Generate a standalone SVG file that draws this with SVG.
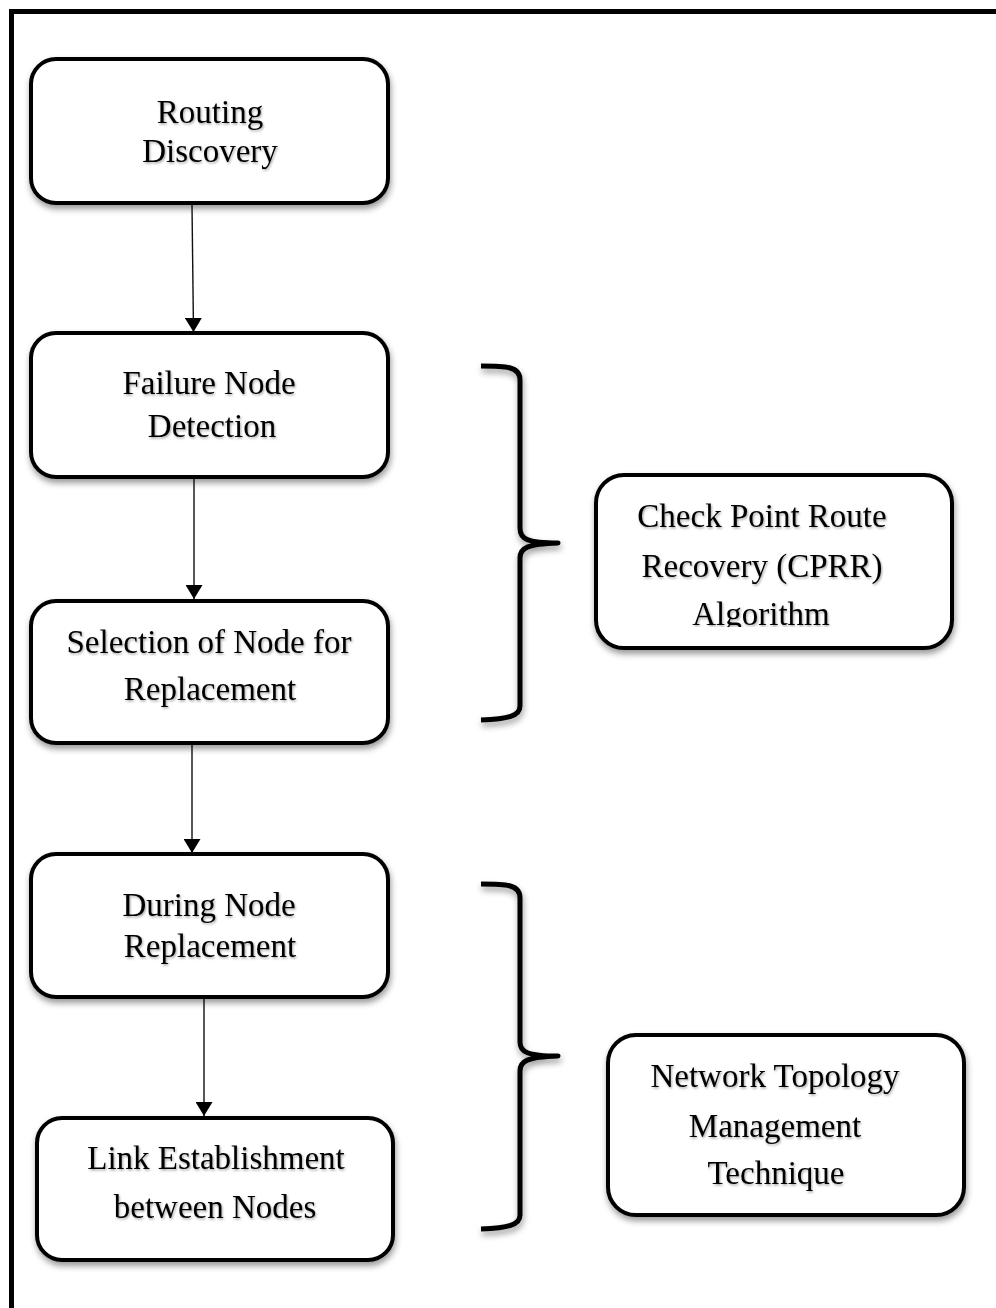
<svg xmlns="http://www.w3.org/2000/svg" width="996" height="1308" viewBox="0 0 996 1308">
<style>
.box{fill:#fff;stroke:#000;stroke-width:4;filter:url(#bshadow)}
.t{font-family:"Liberation Serif","Times New Roman",serif;font-size:33px;fill:#000;text-anchor:middle;filter:url(#tshadow)}
.conn{stroke:#111;stroke-width:1.4;fill:none;marker-end:url(#ah)}
.brace{stroke:#000;stroke-width:5;fill:none;stroke-linecap:butt;stroke-linejoin:round;filter:url(#bshadow)}
</style>
<defs>
<filter id="bshadow" x="-10%" y="-10%" width="120%" height="130%">
<feDropShadow dx="1" dy="4" stdDeviation="3" flood-color="#000" flood-opacity="0.4"/>
</filter>
<filter id="tshadow" x="-5%" y="-20%" width="110%" height="150%">
<feDropShadow dx="1" dy="1.5" stdDeviation="1" flood-color="#000" flood-opacity="0.35"/>
</filter>
<marker id="ah" markerUnits="userSpaceOnUse" markerWidth="15" markerHeight="17" viewBox="0 0 15 17" refX="14" refY="8.5" orient="auto">
<path d="M0,0 L14,8.5 L0,17 z" fill="#000"/>
</marker>
<clipPath id="clipCPRR"><rect x="596" y="475" width="356" height="152"/></clipPath>
</defs>
<rect x="0" y="0" width="996" height="1308" fill="#fff"/>
<rect id="frame" x="11.5" y="11.5" width="1100" height="1400" fill="none" stroke="#000" stroke-width="5"/>

<g id="connectors">
<line class="conn" x1="192" y1="205" x2="193.5" y2="332"/>
<line class="conn" x1="194" y1="479" x2="194" y2="599"/>
<line class="conn" x1="192" y1="745" x2="192" y2="853"/>
<line class="conn" x1="204" y1="999" x2="204" y2="1116"/>
</g>

<g id="n1">
<rect class="box" x="31" y="59" width="357" height="144" rx="25"/>
<text class="t" x="210" y="123">Routing</text>
<text class="t" x="210" y="162">Discovery</text>
</g>
<g id="n2">
<rect class="box" x="31" y="333" width="357" height="144" rx="25"/>
<text class="t" x="209" y="394">Failure Node</text>
<text class="t" x="212" y="437">Detection</text>
</g>
<g id="n3">
<rect class="box" x="31" y="601" width="357" height="142" rx="25"/>
<text class="t" x="209" y="653">Selection of Node for</text>
<text class="t" x="210" y="700">Replacement</text>
</g>
<g id="n4">
<rect class="box" x="31" y="854" width="357" height="143" rx="25"/>
<text class="t" x="209" y="916">During Node</text>
<text class="t" x="210" y="957">Replacement</text>
</g>
<g id="n5">
<rect class="box" x="37" y="1118" width="356" height="142" rx="25"/>
<text class="t" x="216" y="1169">Link Establishment</text>
<text class="t" x="215" y="1218">between Nodes</text>
</g>

<g id="brace1">
<path class="brace" d="M481,366 C505,366 520,366 520,380 L520,528 C520,539 527,543 558,543 C527,544 520,548 520,558 L520,706 C520,716 508,719 481,720"/>
</g>
<g id="brace2">
<path class="brace" d="M481,884 C505,884 520,884 520,898 L520,1042 C520,1052 527,1056 558,1056 C527,1057 520,1061 520,1071 L520,1215 C520,1225 508,1228 481,1229"/>
</g>

<g id="cprr">
<rect class="box" x="596" y="475" width="356" height="173" rx="28"/>
<g clip-path="url(#clipCPRR)">
<text class="t" x="762" y="527">Check Point Route</text>
<text class="t" x="762" y="577">Recovery (CPRR)</text>
<text class="t" x="761" y="625">Algorithm</text>
</g>
</g>
<g id="ntm">
<rect class="box" x="608" y="1035" width="356" height="180" rx="28"/>
<text class="t" x="775" y="1087">Network Topology</text>
<text class="t" x="775" y="1137">Management</text>
<text class="t" x="776" y="1184">Technique</text>
</g>
</svg>
